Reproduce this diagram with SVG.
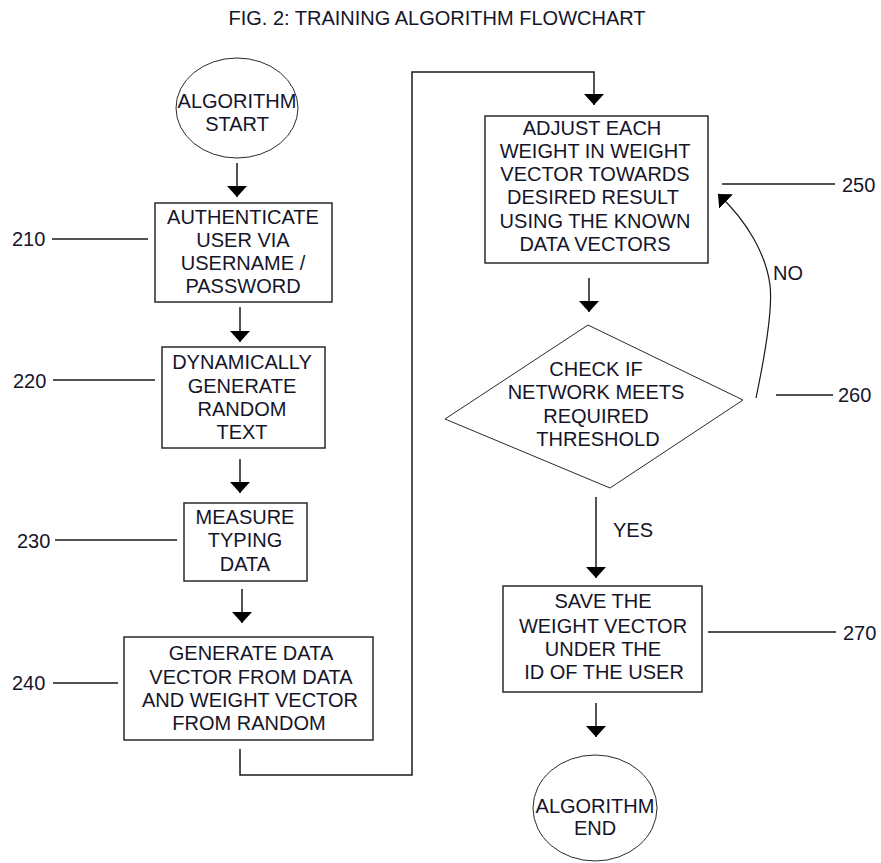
<svg xmlns="http://www.w3.org/2000/svg" width="881" height="863" viewBox="0 0 881 863">
<style>
text{font-family:"Liberation Sans",Arial,sans-serif;font-size:20px;fill:#15152a}
.c{text-anchor:middle}
.box{fill:#fff;stroke:#2a2a2a;stroke-width:1.5}
.thin{fill:#fff;stroke:#2a2a2a;stroke-width:1}
.ln{fill:none;stroke:#1a1a1a;stroke-width:1.5}
.ref{fill:none;stroke:#1a1a1a;stroke-width:1.3}
</style>
<defs>
<marker id="ah" viewBox="0 0 11 20" refX="11" refY="10" markerWidth="11" markerHeight="20" markerUnits="userSpaceOnUse" orient="auto">
<path d="M0,0 L11,10 L0,20 z" fill="#000"/>
</marker>
</defs>
<rect width="881" height="863" fill="#fff"/>
<text class="c" x="437" y="25">FIG. 2: TRAINING ALGORITHM FLOWCHART</text>

<g id="connectors">
<path class="ln" d="M237,163 V197" marker-end="url(#ah)"/>
<path class="ln" d="M240,307 V342" marker-end="url(#ah)"/>
<path class="ln" d="M240,459 V493" marker-end="url(#ah)"/>
<path class="ln" d="M242,589 V623" marker-end="url(#ah)"/>
<path class="ln" d="M240,749 V775 H412 V72 H594 V105" marker-end="url(#ah)"/>
<path class="ln" d="M589,278 V312" marker-end="url(#ah)"/>
<path class="ln" d="M596,497 V578" marker-end="url(#ah)"/>
<path class="ln" d="M596,703 V737" marker-end="url(#ah)"/>
<path class="ln" style="stroke-width:1.2" d="M756,398 C765,355 773,310 770,285 C766,255 748,222 718,194" marker-end="url(#ah)"/>
<text x="773" y="280">NO</text>
<text x="613" y="537">YES</text>
</g>

<g id="refs">
<path class="ref" d="M52,239 H148 M53,380 H155 M55,540 H177 M53,683 H118 M722,184 H835 M776,395 H833 M708,632 H836"/>
<text x="12" y="246">210</text>
<text x="13" y="388">220</text>
<text x="17" y="548">230</text>
<text x="12" y="690">240</text>
<text x="842" y="192">250</text>
<text x="838" y="402">260</text>
<text x="843" y="640">270</text>
</g>

<g id="start">
<ellipse class="thin" cx="237" cy="108" rx="61" ry="50"/>
<text class="c" x="237" y="108">ALGORITHM</text>
<text class="c" x="237" y="131">START</text>
</g>

<g id="n210">
<rect class="box" x="155" y="203" width="177" height="99"/>
<text class="c" x="243" y="224">AUTHENTICATE</text>
<text class="c" x="243" y="247">USER VIA</text>
<text class="c" x="243" y="270">USERNAME /</text>
<text class="c" x="243" y="293">PASSWORD</text>
</g>

<g id="n220">
<rect class="box" x="162" y="347" width="163" height="101"/>
<text class="c" x="242" y="369">DYNAMICALLY</text>
<text class="c" x="242" y="393">GENERATE</text>
<text class="c" x="242" y="416">RANDOM</text>
<text class="c" x="242" y="439">TEXT</text>
</g>

<g id="n230">
<rect class="box" x="184" y="503" width="123" height="78"/>
<text class="c" x="245" y="524">MEASURE</text>
<text class="c" x="245" y="547">TYPING</text>
<text class="c" x="245" y="571">DATA</text>
</g>

<g id="n240">
<rect class="box" x="124" y="637" width="249" height="103"/>
<text class="c" x="251" y="660">GENERATE DATA</text>
<text class="c" x="251" y="684">VECTOR FROM DATA</text>
<text class="c" x="250" y="707">AND WEIGHT VECTOR</text>
<text class="c" x="249" y="730">FROM RANDOM</text>
</g>

<g id="n250">
<rect class="box" x="485" y="116" width="223" height="147"/>
<text class="c" x="592" y="135">ADJUST EACH</text>
<text class="c" x="595" y="158">WEIGHT IN WEIGHT</text>
<text class="c" x="595" y="181">VECTOR TOWARDS</text>
<text class="c" x="593" y="204">DESIRED RESULT</text>
<text class="c" x="595" y="228">USING THE KNOWN</text>
<text class="c" x="595" y="251">DATA VECTORS</text>
</g>

<g id="n260">
<polygon class="thin" points="588,325 743,400 610,488 445,419"/>
<text class="c" x="596" y="376">CHECK IF</text>
<text class="c" x="596" y="399">NETWORK MEETS</text>
<text class="c" x="596" y="423">REQUIRED</text>
<text class="c" x="598" y="446">THRESHOLD</text>
</g>

<g id="n270">
<rect class="box" x="503" y="586" width="199" height="106"/>
<text class="c" x="603" y="608">SAVE THE</text>
<text class="c" x="603" y="633">WEIGHT VECTOR</text>
<text class="c" x="603" y="656">UNDER THE</text>
<text class="c" x="604" y="679">ID OF THE USER</text>
</g>

<g id="end">
<ellipse class="thin" cx="595" cy="808" rx="62" ry="53"/>
<text class="c" x="595" y="813">ALGORITHM</text>
<text class="c" x="595" y="835">END</text>
</g>
</svg>
